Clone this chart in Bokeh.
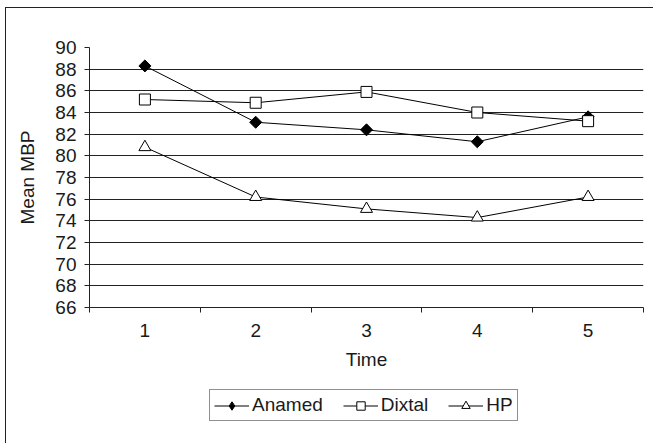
from bokeh.plotting import figure
from bokeh.models import FixedTicker, Legend, LegendItem, Range1d
from bokeh.layouts import column
from bokeh.embed import file_html
from bokeh.resources import INLINE
import math

times = [1, 2, 3, 4, 5]
anamed = [88.3, 83.1, 82.4, 81.3, 83.6]
dixtal = [85.2, 84.9, 85.9, 84.0, 83.2]
hp = [80.8, 76.2, 75.1, 74.3, 76.2]
y_ticks = list(range(66, 91, 2))
x_bounds = [t - 0.5 for t in times] + [times[-1] + 0.5]
series_names = ["Anamed", "Dixtal", "HP"]

FONT = "Liberation Sans"
TXT = "#1a1a1a"

p = figure(width=647, height=372, output_backend="svg", toolbar_location=None,
           x_range=Range1d(0.5, 5.5), y_range=Range1d(66, 90),
           min_border_left=83, min_border_right=10, min_border_top=39, min_border_bottom=73)
p.outline_line_color = None
p.background_fill_color = "white"
p.border_fill_color = "white"

# axes
p.xaxis.ticker = FixedTicker(ticks=times, minor_ticks=x_bounds)
p.xaxis.major_tick_out = 0
p.xaxis.major_tick_in = 0
p.xaxis.minor_tick_out = 5
p.xaxis.minor_tick_in = 0
p.xaxis.minor_tick_line_color = "#222"
p.xaxis.axis_line_color = "#222"
p.xaxis.major_label_standoff = 11
p.xaxis.axis_label = "Time"
p.xaxis.axis_label_standoff = 9

p.yaxis.ticker = FixedTicker(ticks=y_ticks, minor_ticks=[])
p.yaxis.major_tick_out = 5
p.yaxis.major_tick_in = 0
p.yaxis.major_tick_line_color = "#222"
p.yaxis.axis_line_color = "#222"
p.yaxis.major_label_standoff = 8
p.yaxis.axis_label = "Mean MBP"
p.yaxis.axis_label_standoff = 14

for ax in (p.xaxis, p.yaxis):
    ax.major_label_text_font = FONT
    ax.major_label_text_font_size = "19px"
    ax.major_label_text_color = TXT
    ax.axis_label_text_font = FONT
    ax.axis_label_text_font_size = "19px"
    ax.axis_label_text_font_style = "normal"
    ax.axis_label_text_color = TXT

p.xgrid.grid_line_color = None
p.ygrid.grid_line_color = "#222"
p.ygrid.grid_line_width = 1

# series
p.line(times, anamed, line_color="black", line_width=1)
p.scatter(times, anamed, marker="square", angle=math.pi / 4, size=8.5,
          fill_color="black", line_color="black")
p.line(times, dixtal, line_color="black", line_width=1)
p.scatter(times, dixtal, marker="square", size=11,
          fill_color="white", line_color="black", line_width=1)
p.line(times, hp, line_color="black", line_width=1)
p.scatter(times, hp, marker="triangle", size=12,
          fill_color="white", line_color="black", line_width=1)

# legend strip (same series, ranges kept out of view so only the legend shows)
p2 = figure(width=647, height=63, output_backend="svg", toolbar_location=None,
            x_range=Range1d(100, 101), y_range=Range1d(100, 101), min_border=0,
            x_axis_location=None, y_axis_location=None)
p2.outline_line_color = None
p2.grid.visible = False
p2.background_fill_color = "white"
p2.border_fill_color = "white"

lg = []
lg.append([p2.line(times, anamed, line_color="black", line_width=1),
           p2.scatter(times, anamed, marker="diamond", size=10,
                      fill_color="black", line_color="black")])
lg.append([p2.line(times, dixtal, line_color="black", line_width=1),
           p2.scatter(times, dixtal, marker="square", size=8,
                      fill_color="white", line_color="black", line_width=1)])
lg.append([p2.line(times, hp, line_color="black", line_width=1),
           p2.scatter(times, hp, marker="triangle", size=8,
                      fill_color="white", line_color="black", line_width=1)])

legend = Legend(items=[LegendItem(label=n, renderers=r) for n, r in zip(series_names, lg)],
                orientation="horizontal", location=(120, 22))
legend.label_text_font = FONT
legend.label_text_font_size = "19px"
legend.label_text_color = TXT
legend.border_line_color = "#222"
legend.border_line_width = 1
legend.glyph_width = 35
legend.glyph_height = 21
legend.label_standoff = 3
legend.spacing = 20
legend.padding = 4
legend.margin = 0
legend.background_fill_alpha = 1
p2.add_layout(legend, "center")

layout = column(p, p2, spacing=0)
layout.margin = (7, 0, 0, 5)
layout.styles = {"border-top": "1px solid #222", "border-left": "1px solid #222"}

open("out.html", "w").write(file_html(layout, INLINE))
